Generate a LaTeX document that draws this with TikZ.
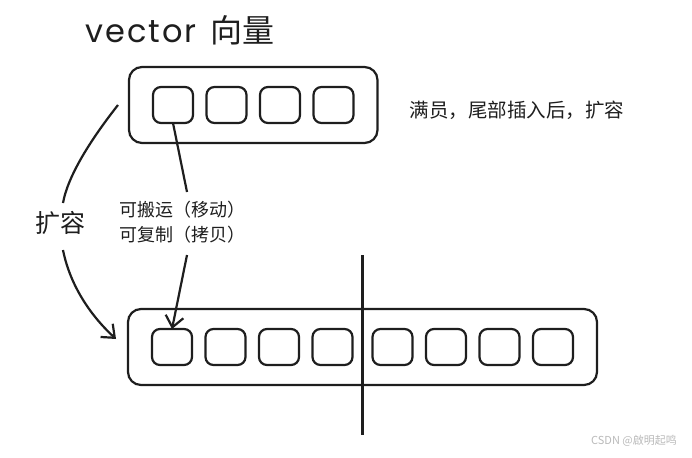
\documentclass[tikz,border=0pt]{standalone}
\usepackage{fontspec}
\newfontfamily\cjk{Noto Sans CJK SC}
\newfontfamily\latin[LetterSpace=6]{Poppins}
\usepackage{tikz}
\usetikzlibrary{arrows.meta,positioning,calc,fit}
\definecolor{ink}{HTML}{1E1E1E}

\begin{document}
\begin{tikzpicture}[
  x=1pt, y=-1pt,
  font=\cjk, draw=ink, text=ink,
  cell/.style={draw=ink, line width=2.2pt, rounded corners=8pt, minimum width=40pt, minimum height=36pt, inner sep=0pt, outer sep=0pt},
  outer/.style={draw=ink, line width=2.2pt, rounded corners=13pt, inner xsep=24pt, inner ysep=20pt, outer sep=0pt},
  arr/.style={-{Straight Barb[length=11pt,width=18pt,line width=2.2pt]}, line width=2.2pt, draw=ink},
  line/.style={line width=2.2pt, draw=ink}
]
\useasboundingbox (0,0) rectangle (692,457);
\node[font=\cjk\fontsize{32}{32}\selectfont] (title) at (180,30) {{\latin vector}\hspace{14pt}向量};
% old storage
\node[cell] (c1) at (173,105) {};
\node[cell, right=13.5pt of c1] (c2) {};
\node[cell, right=13.5pt of c2] (c3) {};
\node[cell, right=13.5pt of c3] (c4) {};
\node[outer, fit=(c1)(c4)] (old) {};
\node[font=\cjk\fontsize{19.5}{19.5}\selectfont] (full) at (517,110) {满员，尾部插入后，扩容};
% new storage
\node[cell] (d1) at (172,347) {};
\node[cell, right=13.5pt of d1] (d2) {};
\node[cell, right=13.5pt of d2] (d3) {};
\node[cell, right=13.5pt of d3] (d4) {};
\node[cell, right=20pt of d4] (d5) {};
\node[cell, right=13.5pt of d5] (d6) {};
\node[cell, right=13.5pt of d6] (d7) {};
\node[cell, right=13.5pt of d7] (d8) {};
\node[outer, fit=(d1)(d8)] (new) {};
\coordinate (cut) at ($(d4.east)!.5!(d5.west)$);
\draw[line width=2.8pt] ([yshift=92pt]cut) -- ([yshift=-88pt]cut);
% grow arrow
\node[font=\cjk\fontsize{25}{25}\selectfont] (grow) at (60,223) {扩容};
\coordinate (g1) at (63,203);
\coordinate (g2) at (63,250);
\draw[line] ([xshift=-11pt]old.west) .. controls (92,138) and (68,175) .. (g1);
\draw[arr] (g2) .. controls (70,285) and (90,315) .. ([xshift=-12pt,yshift=8pt]new.west);
% move / copy
\node[font=\cjk\fontsize{18}{25}\selectfont, align=left, anchor=west] (note) at (116,222.5) {可搬运（移动）\\可复制（拷贝）};
\coordinate (m1) at (187,192);
\coordinate (m2) at (187,255);
\draw[line] (c1.south) -- (m1);
\draw[arr] (m2) -- (d1.north);
\node[text=gray!55, font=\cjk\fontsize{11}{11}\selectfont] (mark) at (634,441) {CSDN @啟明起鸣};
\end{tikzpicture}
\end{document}
